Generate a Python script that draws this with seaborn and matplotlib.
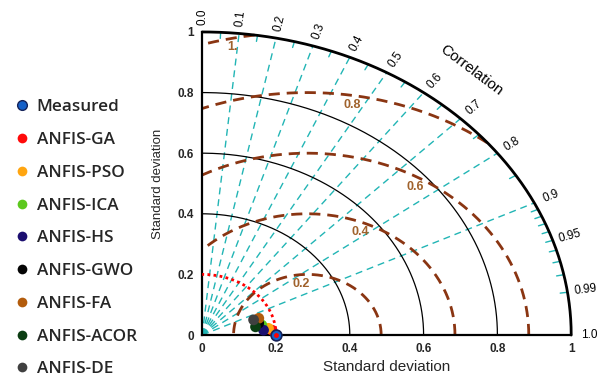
import numpy as np
import pandas as pd
import matplotlib
matplotlib.use("Agg")
import matplotlib.pyplot as plt
import seaborn as sns

# model points (std deviation, correlation)
models = ["Measured", "ANFIS-GA", "ANFIS-PSO", "ANFIS-ICA", "ANFIS-HS",
          "ANFIS-GWO", "ANFIS-FA", "ANFIS-ACOR", "ANFIS-DE"]
std_dev = [0.200, 0.190, 0.181, 0.165, 0.167, 0.158, 0.163, 0.147, 0.148]
correlation = [1.0, 0.9965, 0.9926, 0.980, 0.9954, 0.969, 0.941, 0.983, 0.941]
colors = ["#1560c8", "#ff0a0a", "#ffa510", "#5cc81e", "#1c0f70",
          "#050505", "#b35c0c", "#0b3d12", "#404040"]

# grid definitions
std_ticks = [0, 0.2, 0.4, 0.6, 0.8, 1]
std_tick_labels = ["0", "0.2", "0.4", "0.6", "0.8", "1"]
std_arcs = [0.4, 0.6, 0.8]
ref_std = 0.2
rms_center = 0.285
rms_levels = [0.2, 0.4, 0.6, 0.8, 1.0]
rms_labels = ["0.2", "0.4", "0.6", "0.8", "1."]
rms_label_angles = [96, 67, 59, 81, 102]
corr_lines = [0.1, 0.2, 0.3, 0.4, 0.5, 0.6, 0.7, 0.8, 0.9]
corr_minor = [0.05, 0.15, 0.25, 0.35, 0.45, 0.55, 0.65, 0.75, 0.85,
              0.91, 0.92, 0.93, 0.94, 0.95, 0.96, 0.97, 0.98, 0.99]
corr_labels = [0.0, 0.1, 0.2, 0.3, 0.4, 0.5, 0.6, 0.7, 0.8, 0.9, 0.95, 0.99, 1.0]
corr_label_text = ["0.0", "0.1", "0.2", "0.3", "0.4", "0.5", "0.6", "0.7",
                   "0.8", "0.9", "0.95", "0.99", "1.0"]

TEAL = "#22b5b5"
BROWN = "#8a3512"
BROWN_TXT = "#a0622c"

df = pd.DataFrame({"model": models, "std": std_dev, "corr": correlation})
df["x"] = df["std"] * df["corr"]
df["y"] = df["std"] * np.sqrt(1 - df["corr"] ** 2)

sns.set_theme(style="white")
plt.rcParams["font.family"] = ["Liberation Sans", "DejaVu Sans"]

fig = plt.figure(figsize=(6, 3.76), dpi=100)
ax = fig.add_axes([0.337, 0.109, 0.615, 0.806])
ax.set_xlim(0, 1)
ax.set_ylim(0, 1)

t = np.linspace(0, np.pi / 2, 300)

# correlation rays
for c in corr_lines:
    a = np.arccos(c)
    ax.plot([0, np.cos(a)], [0, np.sin(a)], color=TEAL, lw=1.0,
            dashes=(5, 3.5), zorder=1)
for c in corr_minor:
    a = np.arccos(c)
    ax.plot([0.98 * np.cos(a), np.cos(a)], [0.98 * np.sin(a), np.sin(a)],
            color=TEAL, lw=1.0, zorder=1)

# std arcs
for r in std_arcs:
    ax.plot(r * np.cos(t), r * np.sin(t), color="black", lw=0.9, zorder=2)
ax.plot(np.cos(t), np.sin(t), color="black", lw=2.0, zorder=3, clip_on=False)
ax.plot(ref_std * np.cos(t), ref_std * np.sin(t), color="red", lw=2.0,
        ls=(0, (1, 1.2)), zorder=3)

# centered RMS contours
tt = np.linspace(0, np.pi, 800)
for lev, lab, ang in zip(rms_levels, rms_labels, rms_label_angles):
    xs = rms_center + lev * np.cos(tt)
    ys = lev * np.sin(tt)
    inside = (xs >= 0) & (np.hypot(xs, ys) <= 1.0)
    xs = np.where(inside, xs, np.nan)
    ys = np.where(inside, ys, np.nan)
    ax.plot(xs, ys, color=BROWN, lw=2.0, dashes=(4, 2.5), zorder=2)
    a = np.radians(ang)
    rr = lev - 0.03
    ax.text(rms_center + rr * np.cos(a), rr * np.sin(a), lab, color=BROWN_TXT,
            fontsize=9, fontweight="bold", ha="center", va="center", zorder=4)

# correlation labels
for c, lab in zip(corr_labels, corr_label_text):
    a = np.arccos(c)
    ax.text(1.05 * np.cos(a), 1.05 * np.sin(a), lab, fontsize=8.5,
            rotation=np.degrees(a), transform_rotates_text=True,
            rotation_mode="anchor", ha="center", va="center", color="black")
ax.text(0.73, 0.875, "Correlation", fontsize=11, rotation=-37,
        ha="center", va="center", color="black")

# points
sns.scatterplot(data=df, x="x", y="y", hue="model", palette=colors, s=60,
                edgecolor="none", ax=ax, zorder=5, clip_on=False, legend=True)
ax.scatter(df["x"][:1], df["y"][:1], s=60, color=colors[0],
           edgecolor="#15235a", linewidth=1.2, zorder=6, clip_on=False)
ax.scatter(df["x"][:1], df["y"][:1], s=6, color="red", zorder=7, clip_on=False)

sns.move_legend(ax, "upper left", bbox_to_anchor=(-0.53, 0.80), frameon=False,
                title=None, fontsize=12.3, labelspacing=0.98, handletextpad=0.35,
                handlelength=1.0, borderaxespad=0)
leg = ax.get_legend()
for i, h in enumerate(leg.legend_handles):
    h.set_markersize(7)
    if i == 0:
        h.set_markeredgecolor("#15235a")
        h.set_markeredgewidth(1.0)
for txt in leg.get_texts():
    txt.set_fontfamily(["Open Sans", "DejaVu Sans"])
    txt.set_fontweight("semibold")

# axes styling
for side in ["top", "right"]:
    ax.spines[side].set_visible(False)
for side in ["left", "bottom"]:
    ax.spines[side].set_linewidth(1.6)
    ax.spines[side].set_color("black")
ax.set_xticks(std_ticks)
ax.set_xticklabels(std_tick_labels, fontweight="bold", fontsize=8.5)
ax.set_yticks(std_ticks)
ax.set_yticklabels(std_tick_labels, fontweight="bold", fontsize=8.5)
ax.tick_params(length=0, pad=6)
ax.set_xlabel("Standard deviation", fontsize=11, labelpad=3)
ax.set_ylabel("Standard deviation", fontsize=9.5, labelpad=10)

fig.savefig("out.png", dpi=100)
